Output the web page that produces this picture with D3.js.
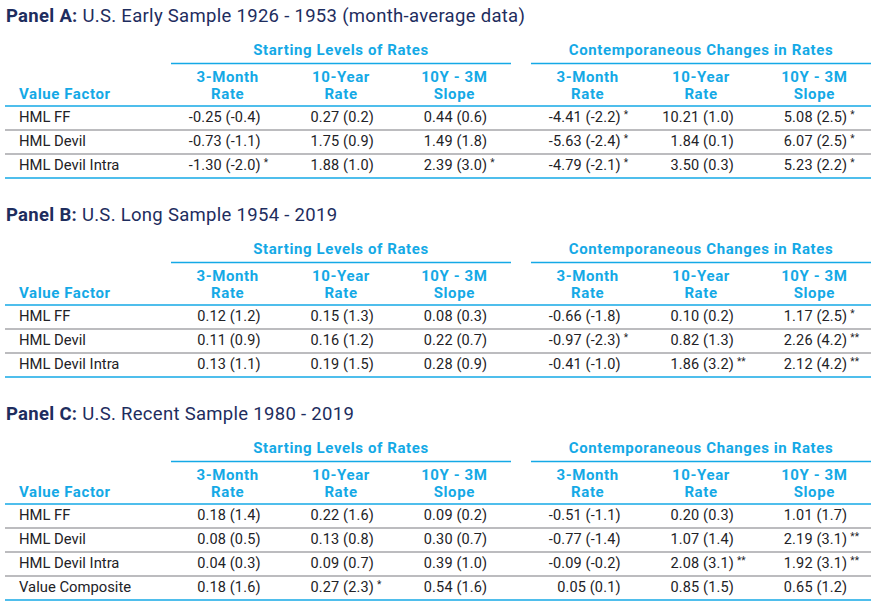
<!DOCTYPE html>
<html><head><meta charset="utf-8">
<script src="https://cdn.jsdelivr.net/npm/d3@7"></script>
<style>
body{margin:0;background:#fff;}
svg{display:block;font-family:Roboto, "Noto Sans", sans-serif;}
</style></head>
<body><div id="chart"></div>
<script>
// ---------- data ----------
const panelLabels = ["Panel A:", "Panel B:", "Panel C:"];
const panelTitles = ["U.S. Early Sample 1926 - 1953 (month-average data)",
                     "U.S. Long Sample 1954 - 2019",
                     "U.S. Recent Sample 1980 - 2019"];
const groupLabels = ["Starting Levels of Rates", "Contemporaneous Changes in Rates"];
const columnLabels = [["3-Month","Rate"],["10-Year","Rate"],["10Y - 3M","Slope"]];
const rowHeader = "Value Factor";
const rowsA = ["HML FF","HML Devil","HML Devil Intra"];
const rowsB = ["HML FF","HML Devil","HML Devil Intra"];
const rowsC = ["HML FF","HML Devil","HML Devil Intra","Value Composite"];
// coefficients per row: 6 columns
const coefA = [[-0.25,0.27,0.44,-4.41,10.21,5.08],[-0.73,1.75,1.49,-5.63,1.84,6.07],[-1.30,1.88,2.39,-4.79,3.50,5.23]];
const tA    = [[-0.4,0.2,0.6,-2.2,1.0,2.5],[-1.1,0.9,1.8,-2.4,0.1,2.5],[-2.0,1.0,3.0,-2.1,0.3,2.2]];
const starA = [["","","","*","","*"],["","","","*","","*"],["*","","*","*","","*"]];
const coefB = [[0.12,0.15,0.08,-0.66,0.10,1.17],[0.11,0.16,0.22,-0.97,0.82,2.26],[0.13,0.19,0.28,-0.41,1.86,2.12]];
const tB    = [[1.2,1.3,0.3,-1.8,0.2,2.5],[0.9,1.2,0.7,-2.3,1.3,4.2],[1.1,1.5,0.9,-1.0,3.2,4.2]];
const starB = [["","","","","","*"],["","","","*","","**"],["","","","","**","**"]];
const coefC = [[0.18,0.22,0.09,-0.51,0.20,1.01],[0.08,0.13,0.30,-0.77,1.07,2.19],[0.04,0.09,0.39,-0.09,2.08,1.92],[0.18,0.27,0.54,0.05,0.85,0.65]];
const tC    = [[1.4,1.6,0.2,-1.1,0.3,1.7],[0.5,0.8,0.7,-1.4,1.4,3.1],[0.3,0.7,1.0,-0.2,3.1,3.1],[1.6,2.3,1.6,0.1,1.5,1.2]];
const starC = [["","","","","",""],["","","","","","**"],["","","","","**","**"],["","*","","","",""]];

const panels = [
  {label:panelLabels[0], title:panelTitles[0], rows:rowsA, coef:coefA, t:tA, star:starA},
  {label:panelLabels[1], title:panelTitles[1], rows:rowsB, coef:coefB, t:tB, star:starB},
  {label:panelLabels[2], title:panelTitles[2], rows:rowsC, coef:coefC, t:tC, star:starC}
];

// ---------- layout ----------
const W = 885, H = 616;
const NAVY = "#1e2d5e", CYAN = "#14a9e6", GRAY = "#7a7a80", TEXT = "#222226";
const loc = d3.formatLocale({decimal:".", thousands:",", grouping:[3], currency:["",""], minus:"-"});
const f2 = loc.format(".2f"), f1 = loc.format(".1f");

const svg = d3.select("#chart").append("svg").attr("width", W).attr("height", H);

const gW = 340;
const groupScale = d3.scalePoint().domain([0,1]).range([171, 531]);
const gX = i => groupScale(i);
const colScale = d3.scaleBand().domain([0,1,2]).range([0, gW]);
const colCenter = c => gX(Math.floor(c/3)) + colScale(c%3) + colScale.bandwidth()/2;

const panelTop = d3.scaleOrdinal().domain([0,1,2]).range([16, 215, 414]);
const rowStep = 24;

function hdr(g, x, y, s, anchor) {
  return g.append("text").attr("x", x).attr("y", y).attr("dy", "0.35em")
    .attr("text-anchor", anchor).attr("font-size", 15).attr("font-weight", 700)
    .attr("letter-spacing", 0.6).attr("fill", CYAN).text(s);
}

panels.forEach((p, pi) => {
  const t = panelTop(pi);
  const g = svg.append("g");
  // title
  const title = g.append("text").attr("x", 6).attr("y", t).attr("dy", "0.35em")
    .attr("font-size", 18.5).attr("letter-spacing", 0.3).attr("fill", NAVY);
  title.append("tspan").attr("font-weight", 700).text(p.label);
  title.append("tspan").text(" " + p.title);

  // group headers
  groupLabels.forEach((gl, gi) => {
    hdr(g, gX(gi) + gW/2, t + 34, gl, "middle");
    g.append("line").attr("x1", gX(gi)).attr("x2", gX(gi) + gW)
      .attr("y1", t + 47.5).attr("y2", t + 47.5).attr("stroke", CYAN).attr("stroke-width", 1.5);
  });
  // column headers
  for (let c = 0; c < 6; c++) {
    columnLabels[c % 3].forEach((s, li) => hdr(g, colCenter(c), t + 61 + li*17, s, "middle"));
  }
  hdr(g, 19, t + 78, rowHeader, "start");

  const y0 = t + 90;
  const rowScale = d3.scaleBand().domain(d3.range(p.rows.length)).range([y0, y0 + rowStep*p.rows.length]);
  // header line
  g.append("line").attr("x1", 5).attr("x2", 871).attr("y1", y0).attr("y2", y0)
    .attr("stroke", CYAN).attr("stroke-width", 1.5);
  p.rows.forEach((r, ri) => {
    const yc = rowScale(ri) + rowScale.bandwidth()/2 - 1;
    g.append("text").attr("x", 19).attr("y", yc).attr("dy", "0.35em")
      .attr("font-size", 14.8).attr("fill", TEXT).text(r);
    for (let c = 0; c < 6; c++) {
      const xr = colCenter(c) + 33;
      g.append("text").attr("x", xr).attr("y", yc).attr("dy", "0.35em").attr("text-anchor", "end")
        .attr("font-size", 14.5).attr("letter-spacing", 0.15).attr("fill", TEXT)
        .text(f2(p.coef[ri][c]) + " (" + f1(p.t[ri][c]) + ")");
      if (p.star[ri][c]) {
        g.append("text").attr("x", xr + 3).attr("y", yc - 3).attr("dy", "0.35em")
          .attr("font-size", 10).attr("fill", TEXT).text(p.star[ri][c]);
      }
    }
    const yl = rowScale(ri) + rowScale.bandwidth();
    const last = ri === p.rows.length - 1;
    g.append("line").attr("x1", 5).attr("x2", 871).attr("y1", yl).attr("y2", yl)
      .attr("stroke", last ? CYAN : GRAY).attr("stroke-width", last ? 1.5 : 1.2);
  });
});
</script></body></html>
